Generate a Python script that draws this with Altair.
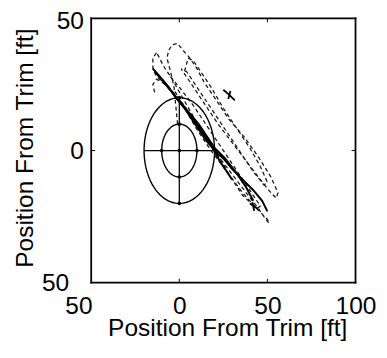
import altair as alt
import numpy as np
import pandas as pd

# ---- data ----
X_TICKS = [-50, 0, 50, 100]
Y_TICKS = [-50, 0, 50]
X_INNER_TICKS = [0, 50]
Y_INNER_TICKS = [0]
FRAME_X = [-50, 100]
FRAME_Y = [-50, 50]

RING_RADII = [10, 20]
CROSS_H = {"x": [-20], "x2": [20], "y": [0], "y2": [0]}
CROSS_V = {"x": [0], "x2": [0], "y": [-20], "y2": [20]}
DOT_X = [0, 0, 0, 0, 0, -10, 10]
DOT_Y = [20, 10, 0, -10, -20, 0, 0]

# dashed trajectories
DASH_A_X = [-1, -2, -3, -5, -7, -6, -4, -1, 2, 6, 10, 14, 20, 28, 37, 45, 52, 56, 55, 52, 46, 38, 30, 22, 15, 9, 4, 1]
DASH_A_Y = [10, 17, 24, 30, 35, 38, 40, 40.5, 38, 35, 31, 26, 20, 12, 5, -2.5, -10, -16, -18, -16, -11, -4, 3, 10, 17, 23, 28, 31]
DASH_B_X = [-13, -15, -15, -13, -8, -3, 3, 10, 20, 28, 36, 44, 50, 51, 49, 45, 38, 30, 22, 14, 7, 1, -4, -9, -12, -13]
DASH_B_Y = [37, 35, 31, 28, 25, 21, 16, 10, 1, -9, -17, -22, -26, -27.5, -26, -22, -16, -9, -2, 6, 14, 21, 27, 32, 36, 37]
DASH_C_X = [3, 5, 8, 12, 18, 25, 33, 40, 46, 50, 48, 42, 35, 27, 19, 12, 7, 4, 3]
DASH_C_Y = [30, 35, 34, 30, 24, 16, 8, 1, -6, -12, -13, -8, -1, 7, 15, 22, 27, 30, 30]
DASH_D_X = [-14, -15, -13, -10, -6, -2, 4]
DASH_D_Y = [22, 25, 27, 26, 24, 21, 16]
DASH_K_X = [-5, 0, 8, 16, 24, 32, 40, 46, 44, 36, 27, 18, 10, 3, -3]
DASH_K_Y = [28, 24, 17, 9, 1, -7, -15, -21, -22, -16, -8, 0, 8, 16, 23]

# solid trajectories
SOLID_E_X = [-15, -11, -6, -2, 3, 9, 15, 20, 25, 30, 36, 42, 47, 50]
SOLID_E_Y = [31, 28, 24, 20, 16, 10, 4, 0, -3, -7, -11, -15, -19, -23]
SOLID_F_X = [-14, -9, -4, 2, 8, 14, 19, 23, 27, 30]
SOLID_F_Y = [30, 26, 22, 17, 12, 6, 1, -4, -8, -11]
SOLID_L_X = [-3, 1, 6, 11, 16, 20, 26, 33, 38, 42]
SOLID_L_Y = [21, 18, 14, 10, 5, 1, -3, -9, -14, -19]
MARK_G_X = [25, 28.5, 31.5]
MARK_G_Y = [23, 21, 19]
MARK_H_X = [27.8, 29]
MARK_H_Y = [19.5, 22.5]
MARK_I_X = [40, 42, 44.5]
MARK_I_Y = [-20, -21, -22]
MARK_J_X = [41.5, 42.5]
MARK_J_Y = [-19.5, -22.8]


def traces(pairs):
    rows = []
    for name, xs, ys in pairs:
        for i, (a, b) in enumerate(zip(xs, ys)):
            rows.append({"trace": name, "i": i, "x": a, "y": b})
    return pd.DataFrame(rows)


dash_df = traces([("A", DASH_A_X, DASH_A_Y), ("B", DASH_B_X, DASH_B_Y),
                  ("C", DASH_C_X, DASH_C_Y), ("D", DASH_D_X, DASH_D_Y),
                  ("K", DASH_K_X, DASH_K_Y)])
solid_df = traces([("E", SOLID_E_X, SOLID_E_Y), ("F", SOLID_F_X, SOLID_F_Y),
                   ("L", SOLID_L_X, SOLID_L_Y)])
mark_df = traces([("G", MARK_G_X, MARK_G_Y), ("H", MARK_H_X, MARK_H_Y),
                  ("I", MARK_I_X, MARK_I_Y), ("J", MARK_J_X, MARK_J_Y)])

ang = np.linspace(0, 2 * np.pi, 121)
ring_rows = []
for r in RING_RADII:
    for i, t in enumerate(ang):
        ring_rows.append({"ring": r, "i": i, "x": r * np.cos(t), "y": r * np.sin(t)})
ring_df = pd.DataFrame(ring_rows)
cross_df = pd.concat([pd.DataFrame(CROSS_H), pd.DataFrame(CROSS_V)])
dot_df = pd.DataFrame({"x": DOT_X, "y": DOT_Y})
xt_df = pd.DataFrame({"x": X_INNER_TICKS})
yt_df = pd.DataFrame({"y": Y_INNER_TICKS})
frame_df = pd.DataFrame({
    "x": [FRAME_X[0], FRAME_X[0], FRAME_X[0], FRAME_X[1]],
    "x2": [FRAME_X[1], FRAME_X[1], FRAME_X[0], FRAME_X[1]],
    "y": [FRAME_Y[0], FRAME_Y[1], FRAME_Y[0], FRAME_Y[0]],
    "y2": [FRAME_Y[0], FRAME_Y[1], FRAME_Y[1], FRAME_Y[1]],
})

FONT = "Liberation Sans, Arial, Helvetica, sans-serif"
FS = 25

xscale = alt.Scale(domain=[-50, 100], nice=False, zero=False)
yscale = alt.Scale(domain=[-50, 50], nice=False, zero=False)

xaxis = alt.Axis(
    values=X_TICKS, title="Position From Trim [ft]", grid=False, ticks=False,
    labelExpr="format(abs(datum.value), 'd')", labelFlush=False, labelOverlap=False,
    labelFont=FONT, labelFontSize=FS, labelColor="black", labelPadding=11,
    labelOffset={"condition": {"test": "datum.value == -50", "value": -13}, "value": 0},
    titleFont=FONT, titleFontSize=FS, titleFontWeight="normal", titleColor="black",
    titleX=139, titleY=54, titleBaseline="alphabetic", titleAlign="center",
    domain=False,
)
yaxis = alt.Axis(
    values=Y_TICKS, title="Position From Trim [ft]", grid=False, ticks=False,
    labelExpr="format(abs(datum.value), 'd')", labelFlush=False, labelOverlap=False,
    labelFont=FONT, labelFontSize=FS, labelColor="black",
    labelPadding={"condition": {"test": "datum.value == -50", "value": 23}, "value": 8},
    labelOffset={"condition": {"test": "datum.value == 50", "value": 2}, "value": 0},
    titleFont=FONT, titleFontSize=FS, titleFontWeight="normal", titleColor="black",
    titleX=-60, titleY=132, titleBaseline="alphabetic", titleAlign="center", titleAngle=-90,
    domain=False,
)

X = alt.X("x:Q", scale=xscale, axis=xaxis)
Y = alt.Y("y:Q", scale=yscale, axis=yaxis)

rings = alt.Chart(ring_df).mark_line(color="black", strokeWidth=1.4).encode(
    x=X, y=Y, detail="ring:N", order="i:Q")
cross = alt.Chart(cross_df).mark_rule(color="black", strokeWidth=1.3).encode(
    x="x:Q", x2="x2:Q", y="y:Q", y2="y2:Q")
dots = alt.Chart(dot_df).mark_circle(color="black", size=14, opacity=1).encode(x="x:Q", y="y:Q")
dashed = alt.Chart(dash_df).mark_line(color="#1a1a1a", strokeWidth=1.3, strokeDash=[4, 3]).encode(
    x="x:Q", y="y:Q", detail="trace:N", order="i:Q")
solid = alt.Chart(solid_df).mark_line(color="black", strokeWidth=2.0).encode(
    x="x:Q", y="y:Q", detail="trace:N", order="i:Q")
marks = alt.Chart(mark_df).mark_line(color="black", strokeWidth=1.8).encode(
    x="x:Q", y="y:Q", detail="trace:N", order="i:Q")
tick_top = alt.Chart(xt_df).mark_rule(color="black", strokeWidth=1).encode(
    x="x:Q", y=alt.value(0), y2=alt.value(4))
tick_bot = alt.Chart(xt_df).mark_rule(color="black", strokeWidth=1).encode(
    x="x:Q", y=alt.value(266), y2=alt.value(270))
tick_left = alt.Chart(yt_df).mark_rule(color="black", strokeWidth=1).encode(
    y="y:Q", x=alt.value(0), x2=alt.value(4))
tick_right = alt.Chart(yt_df).mark_rule(color="black", strokeWidth=1).encode(
    y="y:Q", x=alt.value(266), x2=alt.value(270))
frame = alt.Chart(frame_df).mark_rule(color="black", strokeWidth=1.8, strokeCap="square").encode(
    x="x:Q", x2="x2:Q", y="y:Q", y2="y2:Q")

chart = alt.layer(rings, cross, dots, dashed, solid, marks,
                  tick_top, tick_bot, tick_left, tick_right, frame).properties(
    width=270, height=270,
    autosize=alt.AutoSizeParams(type="none"),
    padding={"left": 85, "top": 7, "right": 24, "bottom": 60},
).configure(background="white").configure_view(strokeOpacity=0)

chart.save("out.html", embed_options={"renderer": "svg", "actions": False})
